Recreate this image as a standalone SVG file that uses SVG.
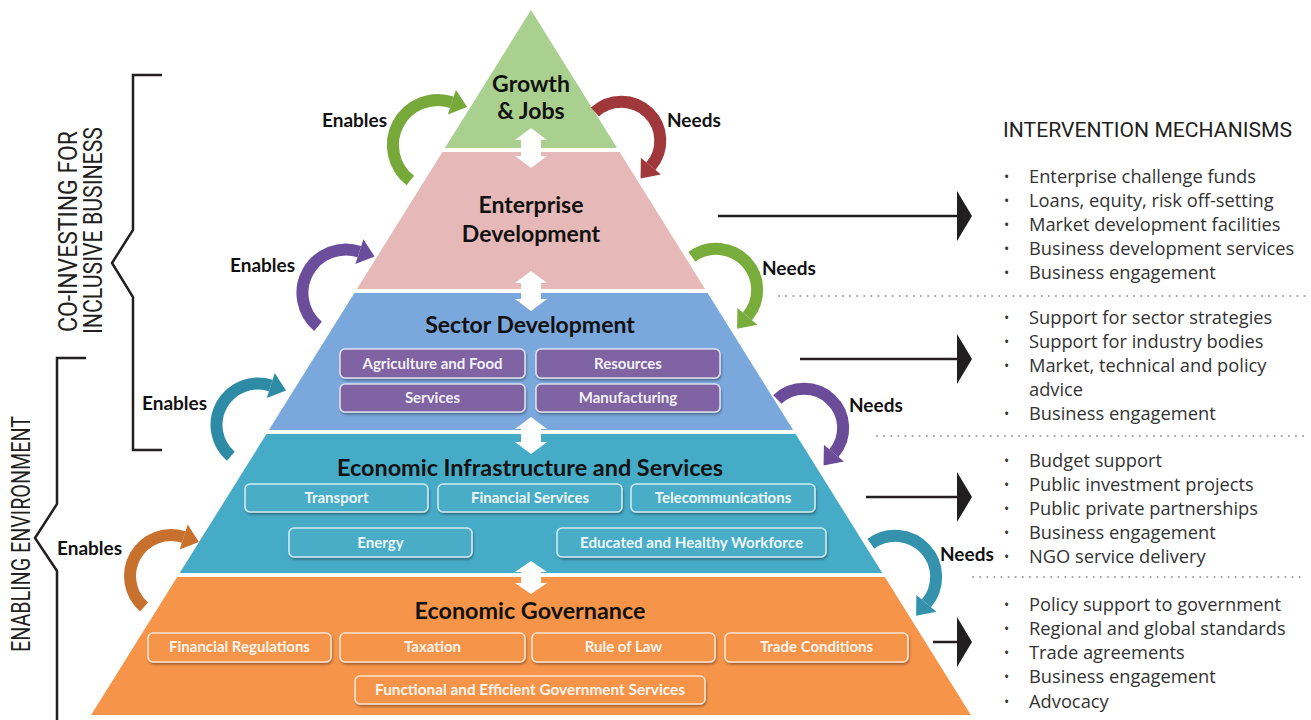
<svg xmlns="http://www.w3.org/2000/svg" width="1311" height="720" viewBox="0 0 1311 720">
<defs>
<style>
.title{font-family:Lato,"Open Sans",sans-serif;font-weight:700;font-size:23px;fill:#111;text-anchor:middle}
.lbl{font-family:Lato,"Open Sans",sans-serif;font-weight:700;font-size:19px;fill:#111}
.bt{font-family:Lato,"Open Sans",sans-serif;font-weight:700;font-size:15px;fill:#fff;fill-opacity:0.93;text-anchor:middle}
.list{font-family:"Open Sans","Noto Sans",sans-serif;font-size:18.3px;fill:#333}
.bul{font-family:"Open Sans","Noto Sans",sans-serif;font-size:14px;fill:#333}
.cond{font-family:Roboto,"Liberation Sans",sans-serif;font-weight:400;fill:#231f20}
.box{stroke:#ffffff;stroke-opacity:0.75;stroke-width:1.6;filter:url(#sh)}
.shaft{fill:none;stroke-width:12;stroke-linecap:butt}
.blk{stroke:#231f20;stroke-width:2.5;fill:none}
.dots{stroke:#a0a0a0;stroke-width:2;stroke-dasharray:0.1 7;stroke-linecap:round}
.dbl{fill:#ffffff}
</style>
<filter id="sh" x="-10%" y="-30%" width="120%" height="170%">
<feDropShadow dx="1" dy="2" stdDeviation="1.2" flood-color="#000" flood-opacity="0.35"/>
</filter>
</defs>
<rect width="1311" height="720" fill="#ffffff"/>

<g id="layer-growth">
<polygon points="531,10 617.1,148 444.9,148" fill="#a9d08e"/>
<text class="title" x="531" y="92">Growth</text>
<text class="title" x="531" y="119">&amp; Jobs</text>
</g>

<g id="layer-enterprise">
<polygon points="442.4,152 619.6,152 705.1,289 356.9,289" fill="#e6b8b7"/>
<text class="title" x="531" y="213">Enterprise</text>
<text class="title" x="531" y="242">Development</text>
</g>

<g id="layer-sector">
<polygon points="354.4,293 707.6,293 793.1,430 268.9,430" fill="#7aa7dc"/>
<text class="title" x="530" y="333">Sector Development</text>
<g id="sector-boxes">
<rect class="box" x="340" y="349" width="185" height="29" rx="5" fill="#8064a2"/>
<rect class="box" x="536" y="349" width="184" height="29" rx="5" fill="#8064a2"/>
<rect class="box" x="340" y="384" width="185" height="28" rx="5" fill="#8064a2"/>
<rect class="box" x="536" y="384" width="184" height="28" rx="5" fill="#8064a2"/>
<text class="bt" x="432.5" y="369">Agriculture and Food</text>
<text class="bt" x="628" y="369">Resources</text>
<text class="bt" x="432.5" y="403">Services</text>
<text class="bt" x="628" y="403">Manufacturing</text>
</g>
</g>

<g id="layer-infrastructure">
<polygon points="266.4,434 795.6,434 882.3,573 179.7,573" fill="#45abc7"/>
<text class="title" x="530" y="476" font-size="22" textLength="386" lengthAdjust="spacingAndGlyphs">Economic Infrastructure and Services</text>
<g id="infra-boxes">
<rect class="box" x="245" y="484" width="183" height="28" rx="5" fill="#4aadc8"/>
<rect class="box" x="438" y="484" width="184" height="28" rx="5" fill="#4aadc8"/>
<rect class="box" x="631" y="484" width="184" height="28" rx="5" fill="#4aadc8"/>
<rect class="box" x="289" y="528" width="183" height="29" rx="5" fill="#4aadc8"/>
<rect class="box" x="557" y="528" width="269" height="29" rx="5" fill="#4aadc8"/>
<text class="bt" x="336.5" y="503">Transport</text>
<text class="bt" x="530" y="503">Financial Services</text>
<text class="bt" x="723" y="503">Telecommunications</text>
<text class="bt" x="380.5" y="548">Energy</text>
<text class="bt" x="691.5" y="548" textLength="223" lengthAdjust="spacingAndGlyphs">Educated and Healthy Workforce</text>
</g>
</g>

<g id="layer-governance">
<polygon points="177.2,577 884.8,577 970.9,715 91.1,715" fill="#f6944a"/>
<text class="title" x="530" y="619" font-size="22" textLength="231" lengthAdjust="spacingAndGlyphs">Economic Governance</text>
<g id="gov-boxes">
<rect class="box" x="148" y="633" width="183" height="29" rx="5" fill="#f6944a"/>
<rect class="box" x="340" y="633" width="185" height="29" rx="5" fill="#f6944a"/>
<rect class="box" x="532" y="633" width="183" height="29" rx="5" fill="#f6944a"/>
<rect class="box" x="725" y="633" width="183" height="29" rx="5" fill="#f6944a"/>
<rect class="box" x="355" y="676" width="350" height="28" rx="5" fill="#f6944a"/>
<text class="bt" x="239.5" y="652">Financial Regulations</text>
<text class="bt" x="432.5" y="652">Taxation</text>
<text class="bt" x="623.5" y="652">Rule of Law</text>
<text class="bt" x="816.5" y="652">Trade Conditions</text>
<text class="bt" x="530" y="695" textLength="310" lengthAdjust="spacingAndGlyphs">Functional and Efficient Government Services</text>
</g>
</g>

<g id="connectors">
<g id="double-arrows" class="dbl">
<path d="M531,128 L547,140 L541,140 L541,156 L547,156 L531,168 L515,156 L521,156 L521,140 L515,140 Z"/>
<path d="M531,271 L547,283 L541,283 L541,299 L547,299 L531,311 L515,299 L521,299 L521,283 L515,283 Z"/>
<path d="M531,417 L547,429 L541,429 L541,442 L547,442 L531,454 L515,442 L521,442 L521,429 L515,429 Z"/>
<path d="M531,561 L547,572 L541,572 L541,583 L547,583 L531,594 L515,583 L521,583 L521,572 L515,572 Z"/>
</g>
<g id="enables-arrows">
<path class="shaft" stroke="#76a83a" d="M410.3,180.5 A45,45 0 0 1 451.9,102.2"/>
<polygon fill="#76a83a" points="455.9,89.8 467.1,107.1 447.9,114.6"/>
<path class="shaft" stroke="#6b4e9b" d="M318,326.3 A43.5,43.5 0 0 1 359.4,251.6"/>
<polygon fill="#6b4e9b" points="363.4,239.2 374.6,256.5 355.4,264"/>
<path class="shaft" stroke="#2e8ba5" d="M230.8,456.3 A41.5,41.5 0 0 1 270.8,385.5"/>
<polygon fill="#2e8ba5" points="274.8,373.1 286,390.4 266.8,397.9"/>
<path class="shaft" stroke="#c8702d" d="M144.1,606.9 A41,41 0 0 1 183.7,537"/>
<polygon fill="#c8702d" points="187.7,524.6 198.9,541.9 179.7,549.4"/>
</g>
<g id="needs-arrows">
<path class="shaft" stroke="#a0373a" d="M594.9,112 A39,39 0 0 1 650.9,166.1"/>
<polygon fill="#a0373a" points="660.9,174.5 640.6,178.4 640.9,157.7"/>
<path class="shaft" stroke="#78ad3c" d="M691.9,256.8 A41,41 0 0 1 747.4,316.4"/>
<polygon fill="#78ad3c" points="757.4,324.8 737.1,328.7 737.4,308"/>
<path class="shaft" stroke="#6a4c98" d="M777.4,399.5 A39,39 0 0 1 833.9,453.1"/>
<polygon fill="#6a4c98" points="843.9,461.5 823.6,465.4 823.9,444.7"/>
<path class="shaft" stroke="#3492ad" d="M870.9,543.8 A41,41 0 0 1 926.4,603.4"/>
<polygon fill="#3492ad" points="936.4,611.8 916.1,615.7 916.4,595"/>
</g>
<g id="mechanism-arrows">
<line class="blk" x1="718" y1="216" x2="958" y2="216"/>
<polygon fill="#231f20" points="957,191 972,216 957,241"/>
<line class="blk" x1="800" y1="359" x2="958" y2="359"/>
<polygon fill="#231f20" points="957,334 972,359 957,384"/>
<line class="blk" x1="866" y1="497" x2="958" y2="497"/>
<polygon fill="#231f20" points="957,472 972,497 957,522"/>
<line class="blk" x1="933" y1="642" x2="958" y2="642"/>
<polygon fill="#231f20" points="957,617 972,642 957,667"/>
</g>
</g>

<g id="arrow-labels">
<text class="lbl" x="322" y="127">Enables</text>
<text class="lbl" x="230" y="272">Enables</text>
<text class="lbl" x="142" y="410">Enables</text>
<text class="lbl" x="57" y="555">Enables</text>
<text class="lbl" x="667" y="127">Needs</text>
<text class="lbl" x="762" y="275">Needs</text>
<text class="lbl" x="849" y="412">Needs</text>
<text class="lbl" x="940" y="561">Needs</text>
</g>

<g id="brackets">
<path class="blk" d="M162,75 L133,75 L133,230 L112,263 L133,297 L133,450 L162,450"/>
<path class="blk" d="M86,358 L57,358 L57,504 L35,538 L57,571 L57,720"/>
<text class="cond" font-size="25" transform="translate(77,332) rotate(-90)" textLength="201" lengthAdjust="spacingAndGlyphs">CO-INVESTING FOR</text>
<text class="cond" font-size="25" transform="translate(102,334) rotate(-90)" textLength="207" lengthAdjust="spacingAndGlyphs">INCLUSIVE BUSINESS</text>
<text class="cond" font-size="25" transform="translate(30,652) rotate(-90)" textLength="236" lengthAdjust="spacingAndGlyphs">ENABLING ENVIRONMENT</text>
</g>

<g id="intervention-mechanisms">
<text class="cond" font-size="21" x="1003" y="137" textLength="289" lengthAdjust="spacingAndGlyphs">INTERVENTION MECHANISMS</text>
<line class="dots" x1="779" y1="296" x2="1305" y2="296"/>
<line class="dots" x1="877" y1="436" x2="1305" y2="436"/>
<line class="dots" x1="973" y1="577" x2="1305" y2="577"/>
<g id="list-enterprise">
<text class="bul" x="1004" y="182">•</text><text class="list" x="1029" y="183">Enterprise challenge funds</text>
<text class="bul" x="1004" y="206">•</text><text class="list" x="1029" y="207">Loans, equity, risk off-setting</text>
<text class="bul" x="1004" y="230">•</text><text class="list" x="1029" y="231">Market development facilities</text>
<text class="bul" x="1004" y="254">•</text><text class="list" x="1029" y="255">Business development services</text>
<text class="bul" x="1004" y="278">•</text><text class="list" x="1029" y="279">Business engagement</text>
</g>
<g id="list-sector">
<text class="bul" x="1004" y="323">•</text><text class="list" x="1029" y="324">Support for sector strategies</text>
<text class="bul" x="1004" y="347">•</text><text class="list" x="1029" y="348">Support for industry bodies</text>
<text class="bul" x="1004" y="371">•</text><text class="list" x="1029" y="372">Market, technical and policy</text>
<text class="list" x="1029" y="396">advice</text>
<text class="bul" x="1004" y="419">•</text><text class="list" x="1029" y="420">Business engagement</text>
</g>
<g id="list-infrastructure">
<text class="bul" x="1004" y="466">•</text><text class="list" x="1029" y="467">Budget support</text>
<text class="bul" x="1004" y="490">•</text><text class="list" x="1029" y="491">Public investment projects</text>
<text class="bul" x="1004" y="514">•</text><text class="list" x="1029" y="515">Public private partnerships</text>
<text class="bul" x="1004" y="538">•</text><text class="list" x="1029" y="539">Business engagement</text>
<text class="bul" x="1004" y="562">•</text><text class="list" x="1029" y="563">NGO service delivery</text>
</g>
<g id="list-governance">
<text class="bul" x="1004" y="610">•</text><text class="list" x="1029" y="611">Policy support to government</text>
<text class="bul" x="1004" y="634">•</text><text class="list" x="1029" y="635">Regional and global standards</text>
<text class="bul" x="1004" y="658">•</text><text class="list" x="1029" y="659">Trade agreements</text>
<text class="bul" x="1004" y="682">•</text><text class="list" x="1029" y="683">Business engagement</text>
<text class="bul" x="1004" y="707">•</text><text class="list" x="1029" y="708">Advocacy</text>
</g>
</g>
</svg>
